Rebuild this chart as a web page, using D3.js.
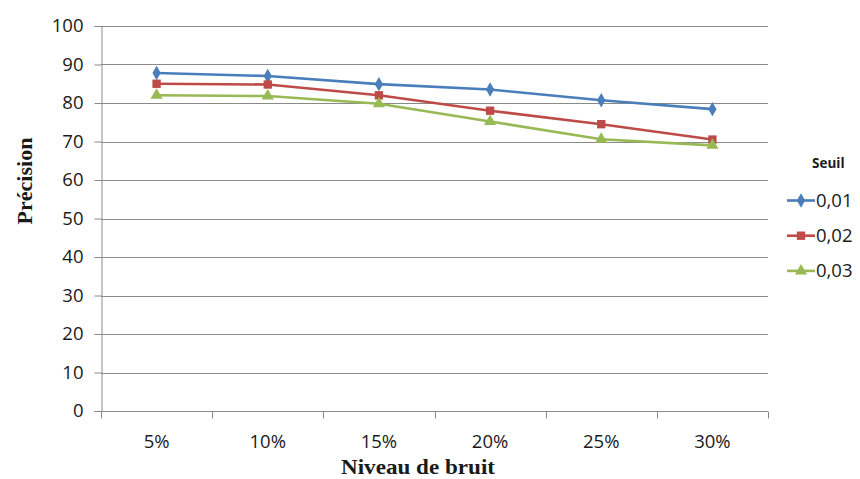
<!DOCTYPE html>
<html>
<head>
<meta charset="utf-8">
<script src="https://cdn.jsdelivr.net/npm/d3@7"></script>
<style>
  html, body { margin: 0; padding: 0; background: #fff; }
  svg { display: block; }
</style>
</head>
<body>
<svg id="chart" width="860" height="479"></svg>
<script>
// Noise levels on the x axis
const categories = ["5%", "10%", "15%", "20%", "25%", "30%"];
// Precision per threshold
const seuil001 = [87.8, 87.0, 84.9, 83.5, 80.7, 78.4];
const seuil002 = [85.0, 84.8, 82.0, 78.0, 74.5, 70.5];
const seuil003 = [82.0, 81.8, 79.8, 75.2, 70.6, 69.0];
const seriesNames = ["0,01", "0,02", "0,03"];
const yTicks = [0, 10, 20, 30, 40, 50, 60, 70, 80, 90, 100];

const series = [
  { name: seriesNames[0], values: seuil001, color: "#4A7EBB", symbol: d3.symbolDiamond, size: 60 },
  { name: seriesNames[1], values: seuil002, color: "#BE4B48", symbol: d3.symbolSquare, size: 70 },
  { name: seriesNames[2], values: seuil003, color: "#98B954", symbol: d3.symbolTriangle, size: 64 }
];

const svg = d3.select("#chart");
const margin = { left: 101, right: 92, top: 26, bottom: 68 };
const W = 860, H = 479;
const plotW = W - margin.left - margin.right;
const plotH = H - margin.top - margin.bottom;
const tickFont = "'Open Sans', 'Liberation Sans', sans-serif";
const titleFont = "'Liberation Serif', 'Times New Roman', serif";

const x = d3.scaleBand().domain(categories).range([0, plotW]).padding(0);
const y = d3.scaleLinear().domain([0, 100]).range([plotH, 0]);

const g = svg.append("g").attr("transform", `translate(${margin.left},${margin.top})`);

// Horizontal gridlines
g.append("g")
  .selectAll("line")
  .data(yTicks.filter(t => t > 0))
  .join("line")
  .attr("x1", 0).attr("x2", plotW)
  .attr("y1", d => Math.round(y(d)) + 0.5).attr("y2", d => Math.round(y(d)) + 0.5)
  .attr("stroke", "#8a8a8a").attr("stroke-width", 1);

// Y axis
const yAxis = g.append("g")
  .attr("transform", "translate(0.5,0)")
  .call(d3.axisLeft(y).tickValues(yTicks).tickSize(7).tickPadding(11));
yAxis.select(".domain").attr("stroke", "#8a8a8a");
yAxis.selectAll(".tick line").attr("stroke", "#8a8a8a");
yAxis.selectAll(".tick text")
  .attr("font-family", tickFont)
  .attr("font-size", 18.5).attr("fill", "#1a1a1a");

// X axis with ticks between categories
const xAxisG = g.append("g").attr("transform", `translate(0,${Math.round(plotH) + 0.5})`);
xAxisG.append("line").attr("x1", 0).attr("x2", plotW).attr("stroke", "#8a8a8a");
const bounds = categories.map(c => x(c)).concat([plotW]);
xAxisG.selectAll("line.tk").data(bounds).join("line").attr("class", "tk")
  .attr("x1", d => Math.round(d) + 0.5).attr("x2", d => Math.round(d) + 0.5)
  .attr("y1", 0).attr("y2", 7).attr("stroke", "#8a8a8a");
xAxisG.selectAll("text").data(categories).join("text")
  .attr("x", d => x(d) + x.bandwidth() / 2)
  .attr("y", 36.5)
  .attr("text-anchor", "middle")
  .attr("font-family", tickFont)
  .attr("font-size", 18.5).attr("fill", "#1a1a1a")
  .text(d => d);

// Lines and markers
const line = d3.line()
  .x((d, i) => x(categories[i]) + x.bandwidth() / 2)
  .y(d => y(d));

series.forEach(s => {
  g.append("path").datum(s.values)
    .attr("d", line)
    .attr("fill", "none")
    .attr("stroke", s.color)
    .attr("stroke-width", 2.6)
    .attr("stroke-linejoin", "round");
  g.append("g").selectAll("path")
    .data(s.values)
    .join("path")
    .attr("transform", (d, i) => `translate(${x(categories[i]) + x.bandwidth() / 2},${y(d)})`)
    .attr("d", d3.symbol().type(s.symbol).size(s.size))
    .attr("fill", s.color);
});

// Axis titles
svg.append("text")
  .attr("transform", "translate(32,181) rotate(-90)")
  .attr("text-anchor", "middle")
  .attr("font-family", titleFont)
  .attr("font-weight", "bold").attr("font-size", 22).attr("fill", "#1a1a1a")
  .text("Précision");

svg.append("text")
  .attr("x", 418)
  .attr("y", 474)
  .attr("text-anchor", "middle")
  .attr("font-family", titleFont)
  .attr("font-weight", "bold").attr("font-size", 22).attr("fill", "#1a1a1a")
  .attr("textLength", 154).attr("lengthAdjust", "spacingAndGlyphs")
  .text("Niveau de bruit");

// Legend
const legend = svg.append("g").attr("transform", "translate(787,0)");
legend.append("text")
  .attr("x", 25).attr("y", 168)
  .attr("font-family", tickFont)
  .attr("font-weight", "bold").attr("font-size", 13.5).attr("fill", "#1a1a1a")
  .text("Seuil");
series.forEach((s, i) => {
  const cy = 200.5 + i * 35.2;
  legend.append("line")
    .attr("x1", 0).attr("x2", 28).attr("y1", cy).attr("y2", cy)
    .attr("stroke", s.color).attr("stroke-width", 2.6);
  legend.append("path")
    .attr("transform", `translate(14,${cy})`)
    .attr("d", d3.symbol().type(s.symbol).size(s.size))
    .attr("fill", s.color);
  legend.append("text")
    .attr("x", 29).attr("y", cy + 6.5)
    .attr("font-family", tickFont)
    .attr("font-size", 18.5).attr("fill", "#1a1a1a")
    .text(s.name);
});
</script>
</body>
</html>
